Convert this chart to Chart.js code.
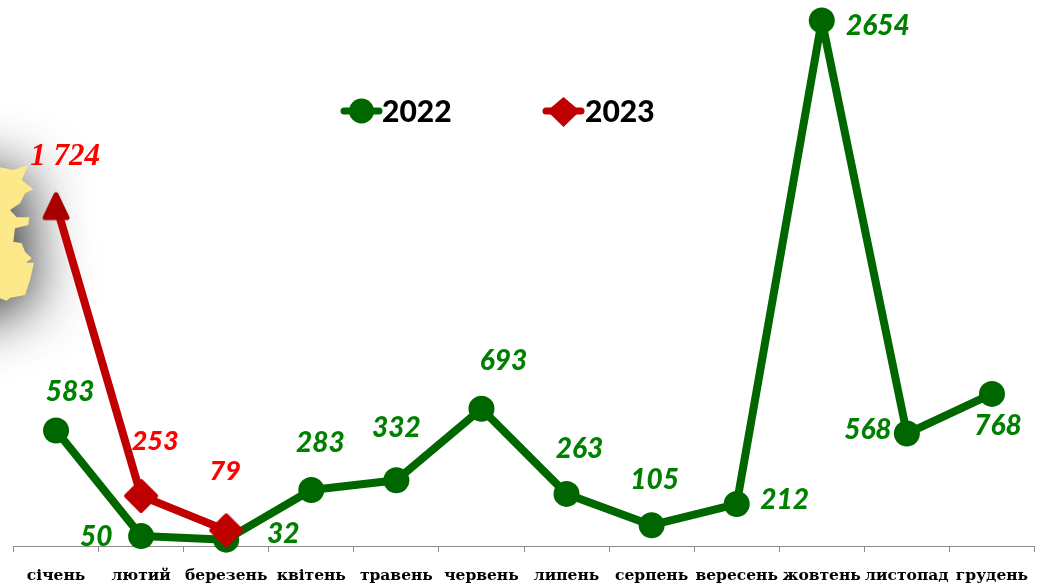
<!DOCTYPE html>
<html><head><meta charset="utf-8">
<style>html,body{margin:0;padding:0;background:#fff}canvas{display:block}</style>
<script src="https://cdn.jsdelivr.net/npm/chart.js@4"></script>
</head><body>
<canvas id="c" width="1043" height="584"></canvas>
<script>
const categories = ['січень','лютий','березень','квітень','травень','червень','липень','серпень','вересень','жовтень','листопад','грудень'];
const values2022 = [583,50,32,283,332,693,263,105,212,2654,568,768];
const values2023 = [1724,253,79,null,null,null,null,null,null,null,null,null];
const labels2022 = ['583','50','32','283','332','693','263','105','212','2654','568','768'];
const labels2023 = ['1 724','253','79'];
const yMax = 2757;

const offs2022 = [[14,-39],[-45,1],[57,-6],[9,-47],[0,-52],[22,-48],[13,-45],[3,-45],[48,-4],[56,6],[-39,-4],[6,32]];
const offs2023 = [[9,-48],[14,-55],[-1,-59]];

const mapShape = [[0,112],[40,120],[85,105],[65,150],[100,178],[75,190],[60,220],[30,240],[50,262],[88,262],[85,285],[45,295],[40,335],[65,340],[75,365],[95,385],[78,398],[102,398],[90,450],[75,495],[30,503],[20,512],[0,505]];

function markerCanvas(points, fill, joinWidth){
  const cv = document.createElement('canvas');
  cv.width = 48; cv.height = 48;
  const c = cv.getContext('2d');
  c.beginPath();
  points.forEach((p,i)=> i ? c.lineTo(p[0],p[1]) : c.moveTo(p[0],p[1]));
  c.closePath();
  c.fillStyle = fill; c.strokeStyle = fill;
  c.lineJoin = 'round'; c.lineWidth = joinWidth;
  c.fill(); c.stroke();
  return cv;
}
const triangleMarker = markerCanvas([[24,14],[35,37],[13,37]], '#A80000', 5);
const diamondMarker = markerCanvas([[24,9],[39,24],[24,39],[9,24]], '#C00000', 4);

const mapPlugin = {
  id:'map',
  beforeDraw(chart){
    const c = chart.ctx;
    c.save();
    c.beginPath();
    mapShape.forEach((p,i)=>{const x=p[0]/3,y=130+p[1]/3; i?c.lineTo(x,y):c.moveTo(x,y);});
    c.lineTo(-60,130+505/3+25);c.lineTo(-60,130+112/3-10);
    c.closePath();
    c.shadowColor='rgba(0,0,0,0.85)';
    c.shadowBlur=58;
    c.shadowOffsetX=4;
    c.shadowOffsetY=8;
    c.fillStyle='#FDE98A';
    c.fill();
    c.restore();
  }
};

const labelPlugin = {
  id:'valueLabels',
  afterDatasetsDraw(chart){
    const c = chart.ctx;
    c.save();
    c.textAlign='center';c.textBaseline='middle';
    chart.getDatasetMeta(0).data.forEach((pt,i)=>{
      c.font='italic 900 28px Lato, sans-serif';
      c.fillStyle='#008000';
      c.fillText(labels2022[i],pt.x+offs2022[i][0],pt.y+offs2022[i][1]);
    });
    chart.getDatasetMeta(1).data.forEach((pt,i)=>{
      if(values2023[i]==null) return;
      c.font = i===0 ? 'italic bold 31px "Liberation Serif", serif' : 'italic 900 27px Lato, sans-serif';
      c.fillStyle='#FF0000';
      c.fillText(labels2023[i],pt.x+offs2023[i][0],pt.y+offs2023[i][1]);
    });
    c.restore();
  }
};

const legendPlugin = {
  id:'customLegend',
  afterDraw(chart){
    const c = chart.ctx;
    c.save();
    const items=[{x:342,ds:0},{x:544,ds:1}];
    items.forEach(it=>{
      const ds=chart.data.datasets[it.ds];
      c.strokeStyle=ds.borderColor;c.lineWidth=7;c.lineCap='round';
      c.beginPath();c.moveTo(it.x+2,111);c.lineTo(it.x+37,111);c.stroke();
      c.fillStyle=ds.borderColor;
      c.beginPath();
      if(it.ds===0){c.arc(it.x+19.5,111,12.5,0,Math.PI*2);}
      else{c.moveTo(it.x+19.5,97);c.lineTo(it.x+36,111);c.lineTo(it.x+19.5,127);c.lineTo(it.x+3,111);c.closePath();}
      c.fill();
      c.fillStyle='#000';c.font='900 30px Lato, sans-serif';c.textAlign='left';c.textBaseline='middle';
      c.fillText(ds.label,it.x+(it.ds?41:40),112);
    });
    c.restore();
  }
};

new Chart(document.getElementById('c'),{
  type:'line',
  data:{labels:categories,datasets:[
    {label:'2022',data:values2022,borderColor:'#006600',backgroundColor:'#006600',borderWidth:8,borderJoinStyle:'round',
     pointStyle:'circle',pointRadius:13,pointHoverRadius:13,pointBorderWidth:0,tension:0,clip:false,order:2},
    {label:'2023',data:values2023,borderColor:'#C00000',backgroundColor:'#C00000',borderWidth:8,borderJoinStyle:'round',
     pointStyle:[triangleMarker,diamondMarker,diamondMarker],pointRadius:17,pointHoverRadius:17,pointBorderWidth:0,
     tension:0,clip:false,spanGaps:false,order:1}
  ]},
  options:{
    responsive:false,animation:false,
    layout:{autoPadding:false,padding:{left:13.5,right:8.5,top:0,bottom:0}},
    plugins:{legend:{display:false},tooltip:{enabled:false}},
    scales:{
      x:{type:'category',offset:true,
        afterFit(s){s.height=38;s.paddingLeft=0;s.paddingRight=0;},
        border:{color:'#8c8c8c',width:1},
        grid:{offset:true,drawOnChartArea:false,drawTicks:true,tickLength:6,color:'#8c8c8c'},
        ticks:{autoSkip:false,maxRotation:0,minRotation:0,padding:15,color:'#000',
          font:{family:'"DejaVu Serif", serif',weight:'bold',size:15.5}}
      },
      y:{display:false,min:0,max:yMax}
    }
  },
  plugins:[mapPlugin,labelPlugin,legendPlugin]
});
</script>
</body></html>
